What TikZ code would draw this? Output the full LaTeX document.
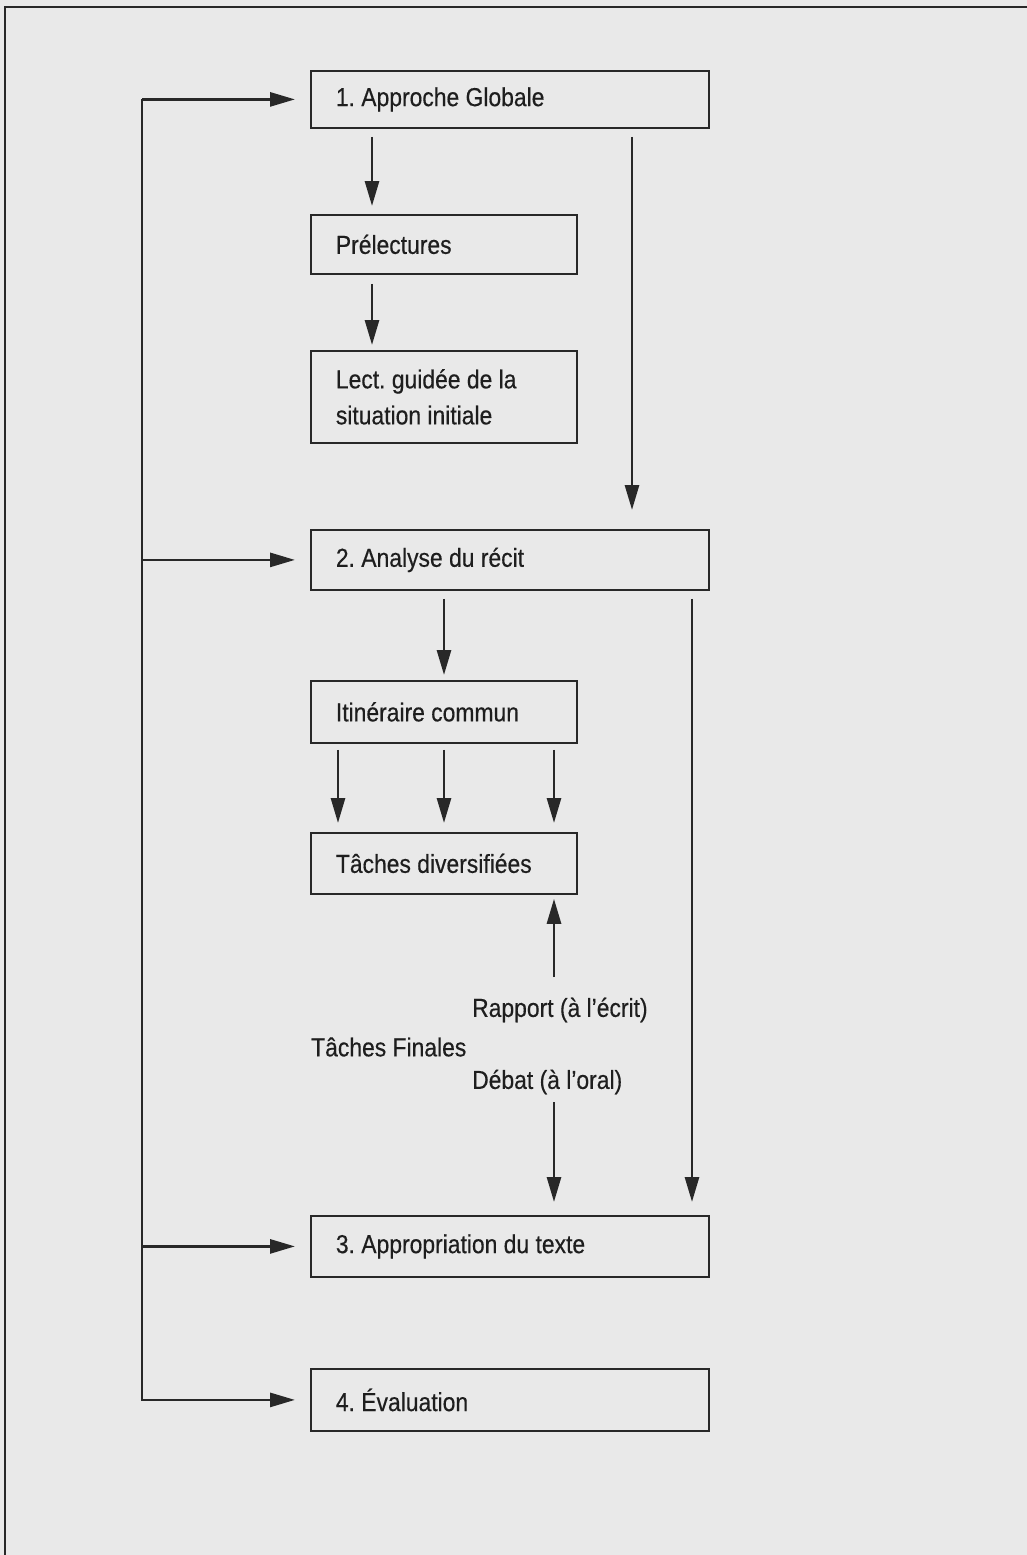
\documentclass[tikz,border=0pt]{standalone}
\usepackage{fontspec}
\setmainfont{Liberation Sans}[FakeStretch=0.88, FakeBold=0.4]
\usetikzlibrary{arrows.meta}
\definecolor{pagebg}{RGB}{233,233,233}
\definecolor{ink}{RGB}{40,40,40}
\definecolor{textink}{RGB}{30,30,30}
\begin{document}
\frenchspacing
\begin{tikzpicture}[x=1pt,y=-1pt,
  every node/.style={font=\fontsize{26}{36}\selectfont, text=textink},
  stepbox/.style={draw=ink, line width=1.8pt, anchor=north west, align=flush left,
    inner xsep=25pt, inner ysep=0pt, text width=#1},
  widebox/.style={stepbox=348pt},
  narrowbox/.style={stepbox=216pt},
  conn/.style={draw=ink, line width=2.8pt},
  arr/.style={conn, -{Triangle[length=25pt,width=14pt]}},
  lbl/.style={anchor=west, inner sep=0pt}
]
\useasboundingbox (0,0) rectangle (1027,1555);
\fill[pagebg] (0,0) rectangle (1027,1555);
\begin{scope}
\clip (0,0) rectangle (1027,1555);
\draw[ink, line width=1.3pt] (5,7) rectangle (1040,1570);
\end{scope}

% boxes
\node[widebox, minimum height=57pt] (b1) at (310,70) {1. Approche Globale};
\node[narrowbox, minimum height=59pt] (b2) at (310,214) {Prélectures};
\node[narrowbox, minimum height=92pt] (b3) at (310,350) {Lect. guidée de la\\situation initiale};
\node[widebox, minimum height=60pt] (b4) at (310,529) {2. Analyse du récit};
\node[narrowbox, minimum height=62pt] (b5) at (310,680) {Itinéraire commun};
\node[narrowbox, minimum height=61pt] (b6) at (310,832) {Tâches diversifiées};
\node[widebox, minimum height=61pt] (b7) at (310,1215) {3. Appropriation du texte};
\node[widebox, minimum height=62pt] (b8) at (310,1368) {4. Évaluation};

% labels
\node[lbl] (rap) at (472,1010) {Rapport (à l’écrit)};
\node[lbl] (fin) at (311,1047) {Tâches Finales};
\node[lbl] (deb) at (472,1082) {Débat (à l’oral)};

% helper columns
\coordinate (lx) at (142,0);
\coordinate (cx) at (372,0);
\coordinate (rx1) at (632,0);
\coordinate (rx2) at (692,0);
\coordinate (ax1) at (338,0);
\coordinate (ax2) at (444,0);
\coordinate (ax3) at (554,0);
\coordinate (upstart) at (554,977);
\coordinate (dnstart) at (554,1102);

% left feedback line
\draw[arr, shorten >=15pt] (b1.west -| lx) |- (b8.west);
\draw[arr, shorten >=15pt] (b1.west -| lx) -- (b1.west);
\draw[arr, shorten >=15pt] (b4.west -| lx) -- (b4.west);
\draw[arr, shorten >=15pt] (b7.west -| lx) -- (b7.west);

% main flow
\draw[arr, shorten <=8pt, shorten >=8pt] (b1.south -| cx) -- (b2.north -| cx);
\draw[arr, shorten <=9pt, shorten >=5pt] (b2.south -| cx) -- (b3.north -| cx);
\draw[arr, shorten <=8pt, shorten >=19pt] (b1.south -| rx1) -- (b4.north -| rx1);
\draw[arr, shorten <=8pt, shorten >=5pt] (b4.south -| ax2) -- (b5.north -| ax2);
\draw[arr, shorten <=8pt, shorten >=13pt] (b4.south -| rx2) -- (b7.north -| rx2);
\draw[arr, shorten <=6pt, shorten >=9pt] (b5.south -| ax1) -- (b6.north -| ax1);
\draw[arr, shorten <=6pt, shorten >=9pt] (b5.south -| ax2) -- (b6.north -| ax2);
\draw[arr, shorten <=6pt, shorten >=9pt] (b5.south -| ax3) -- (b6.north -| ax3);
\draw[arr, shorten >=4pt] (upstart) -- (b6.south -| upstart);
\draw[arr, shorten >=13pt] (dnstart) -- (b7.north -| dnstart);
\end{tikzpicture}
\end{document}
